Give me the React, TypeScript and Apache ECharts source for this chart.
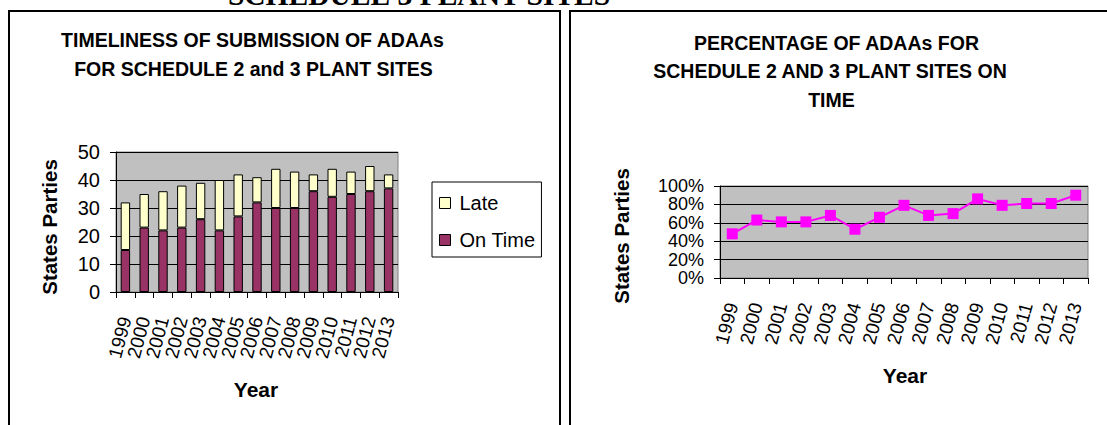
import React, { useEffect, useRef } from 'react';
import * as echarts from 'echarts';

const years = ['1999', '2000', '2001', '2002', '2003', '2004', '2005', '2006', '2007', '2008', '2009', '2010', '2011', '2012', '2013'];
const onTime = [15, 23, 22, 23, 26, 22, 27, 32, 30, 30, 36, 34, 35, 36, 37];
const late = [17, 12, 14, 15, 13, 18, 15, 9, 14, 13, 6, 10, 8, 9, 5];
const pctOnTime = [48, 63, 61, 61, 68, 53, 66, 79, 68, 70, 86, 79, 81, 81, 90];
const legendNames = ['Late', 'On Time'];

const leftTitle = ['TIMELINESS OF SUBMISSION OF ADAAs', 'FOR SCHEDULE 2 and 3 PLANT SITES'];
const rightTitle = ['PERCENTAGE OF ADAAs FOR', 'SCHEDULE 2 AND 3 PLANT SITES ON', 'TIME'];

const FONT = "'Liberation Sans', Arial, sans-serif";

function txt(text: string, x: number, y: number, size: number, opts: any = {}) {
  return {
    type: 'text',
    x,
    y,
    rotation: opts.rotation || 0,
    z: 100,
    style: {
      text,
      fontSize: size,
      fontWeight: opts.weight || 'bold',
      fontFamily: opts.family || FONT,
      fill: '#000',
      align: 'center',
      verticalAlign: 'middle',
      textAlign: 'center',
      textVerticalAlign: 'middle',
    },
  };
}

export default function App() {
  const ref = useRef<HTMLDivElement>(null);
  useEffect(() => {
    if (!ref.current) return;
    const chart = echarts.init(ref.current, undefined, { renderer: 'svg' });
    const axisCommon = {
      axisLine: { show: true, lineStyle: { color: '#000', width: 1 } },
      axisTick: { show: true, length: 6, lineStyle: { color: '#000', width: 1 } },
    };
    const xLabel = { rotate: 75, margin: 25, fontSize: 19, color: '#000', interval: 0, fontFamily: FONT };
    const option: any = {
      animation: false,
      backgroundColor: '#fff',
      textStyle: { fontFamily: FONT },
      grid: [
        { left: 116, top: 152, width: 282, height: 140, show: true, backgroundColor: '#C0C0C0', borderColor: '#808080', borderWidth: 1 },
        { left: 720, top: 186, width: 368, height: 92, show: true, backgroundColor: '#C0C0C0', borderColor: '#808080', borderWidth: 1 },
      ],
      xAxis: [
        { gridIndex: 0, type: 'category', data: years, boundaryGap: true, ...axisCommon, axisLabel: { ...xLabel } },
        { gridIndex: 1, type: 'category', data: years, boundaryGap: true, ...axisCommon, axisLabel: { ...xLabel } },
      ],
      yAxis: [
        {
          gridIndex: 0, type: 'value', min: 0, max: 50, interval: 10, ...axisCommon,
          axisLabel: { fontSize: 20, color: '#000', margin: 16, fontFamily: FONT, showMinLabel: true, showMaxLabel: true },
          splitLine: { show: true, lineStyle: { color: '#000', width: 1 } },
        },
        {
          gridIndex: 1, type: 'value', min: 0, max: 100, interval: 20, ...axisCommon,
          axisLabel: { fontSize: 18, lineHeight: 17, color: '#000', margin: 16, formatter: '{value}%', fontFamily: FONT, showMinLabel: true, showMaxLabel: true, hideOverlap: false },
          splitLine: { show: true, lineStyle: { color: '#000', width: 1 } },
        },
      ],
      legend: {
        data: legendNames,
        orient: 'vertical',
        left: 432,
        top: 182,
        backgroundColor: '#fff',
        borderColor: '#000',
        borderWidth: 1,
        padding: [11, 6, 7, 7],
        itemGap: 17,
        itemWidth: 11,
        itemHeight: 11,
        icon: 'rect',
        itemStyle: { borderColor: '#000', borderWidth: 1 },
        textStyle: { fontSize: 20, color: '#000', fontFamily: FONT, padding: [0, 0, 0, 4] },
      },
      series: [
        {
          type: 'bar', name: 'On Time', stack: 'a', data: onTime, barWidth: '50%',
          xAxisIndex: 0, yAxisIndex: 0,
          itemStyle: { color: '#993366', borderColor: '#000', borderWidth: 1 },
        },
        {
          type: 'bar', name: 'Late', stack: 'a', data: late, barWidth: '50%',
          xAxisIndex: 0, yAxisIndex: 0,
          itemStyle: { color: '#FFFFCC', borderColor: '#000', borderWidth: 1 },
        },
        {
          type: 'line', name: 'Percent', data: pctOnTime, xAxisIndex: 1, yAxisIndex: 1,
          symbol: 'rect', symbolSize: 11,
          lineStyle: { color: '#FF00FF', width: 2 },
          itemStyle: { color: '#FF00FF' },
        },
      ],
      graphic: [
        { type: 'rect', shape: { x: 9, y: 11, width: 551, height: 500 }, style: { fill: 'none', stroke: '#000', lineWidth: 2 }, z: 100 },
        { type: 'rect', shape: { x: 570, y: 11, width: 600, height: 500 }, style: { fill: 'none', stroke: '#000', lineWidth: 2 }, z: 100 },
        txt('SCHEDULE 3 PLANT SITES', 419, -5, 29.5, { family: "'Liberation Serif', 'Times New Roman', serif" }),
        txt(leftTitle[0], 252.5, 39.5, 19.5),
        txt(leftTitle[1], 253.5, 69, 19.5),
        txt(rightTitle[0], 836.5, 42.5, 19.5),
        txt(rightTitle[1], 830, 71, 19.5),
        txt(rightTitle[2], 831.5, 100, 19.5),
        txt('Year', 256, 389.5, 21),
        txt('Year', 905, 375, 21),
        txt('States Parties', 49.5, 227, 20.5, { rotation: Math.PI / 2 }),
        txt('States Parties', 621, 236, 20.5, { rotation: Math.PI / 2 }),
      ],
    };
    chart.setOption(option);
    return () => chart.dispose();
  }, []);
  return <div ref={ref} style={{ position: 'absolute', left: 0, top: 0, width: 1107, height: 425 }} />;
}
